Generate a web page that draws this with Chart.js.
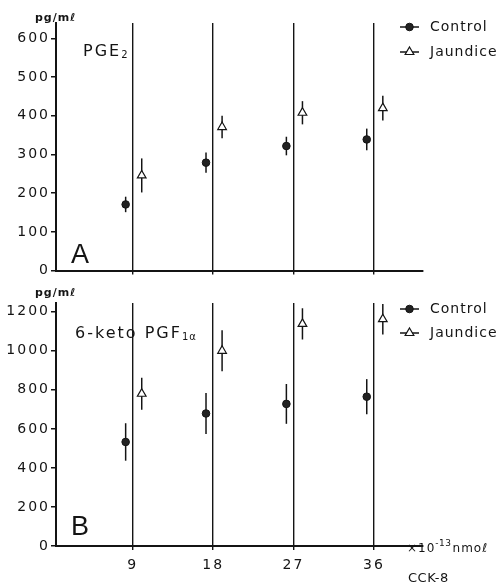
<!DOCTYPE html>
<html>
<head>
<meta charset="utf-8">
<script src="https://cdn.jsdelivr.net/npm/chart.js@4.4.0/dist/chart.umd.min.js"></script>
<style>
  html, body { margin: 0; padding: 0; background: #fff; }
  #wrap { position: relative; width: 503px; height: 585px; }
  canvas { position: absolute; left: 0; }
  #chartA { top: 0; }
  #chartB { top: 280px; }
</style>
</head>
<body>
<div id="wrap">
  <canvas id="chartA" width="503" height="280"></canvas>
  <canvas id="chartB" width="503" height="305"></canvas>
</div>
<script>
// CCK-8 doses (x10^-13 nmol)
const doses = [9, 18, 27, 36];

// panel A : PGE2 (pg/ml), mean and SE
const pgeControl = [171, 279, 322, 339];
const pgeControlSe = [20, 26, 24, 28];
const pgeJaundice = [246, 371, 408, 420];
const pgeJaundiceSe = [44, 29, 30, 32];
const pgeTicks = [0, 100, 200, 300, 400, 500, 600];

// panel B : 6-keto PGF1a (pg/ml)
const ketoControl = [533, 679, 728, 765];
const ketoControlSe = [96, 105, 102, 90];
const ketoJaundice = [780, 1000, 1138, 1162];
const ketoJaundiceSe = [82, 105, 80, 78];
const ketoTicks = [0, 200, 400, 600, 800, 1000, 1200];

const seriesNames = ['Control', 'Jaundice'];

// markers sit a little left / right of each dose line
const ctrlShift = -0.8;
const jaunShift = 1.0;
const ink = '#141414';
const fam = "'DejaVu Sans', sans-serif";

function pts(vals, shift) {
  return vals.map((v, i) => ({ x: doses[i] + shift, y: v }));
}

function drawText(ctx, txt, x, y, size, opts) {
  opts = opts || {};
  ctx.save();
  ctx.font = (opts.weight || 'normal') + ' ' + size + 'px ' + (opts.family || fam);
  ctx.letterSpacing = (opts.spacing || 0) + 'px';
  ctx.fillStyle = ink;
  ctx.textAlign = 'left';
  ctx.textBaseline = opts.baseline || 'alphabetic';
  ctx.fillText(txt, x, y);
  const w = ctx.measureText(txt).width;
  ctx.restore();
  return x + w;
}

function marker(ctx, ds, x, y) {
  ctx.save();
  ctx.fillStyle = ds.backgroundColor;
  ctx.strokeStyle = ds.borderColor;
  ctx.lineWidth = ds.borderWidth;
  ctx.beginPath();
  const r = ds.pointRadius;
  if (ds.pointStyle === 'circle') {
    ctx.arc(x, y, r, 0, Math.PI * 2);
  } else {
    ctx.moveTo(x, y - r);
    ctx.lineTo(x + r * 0.87, y + r * 0.5);
    ctx.lineTo(x - r * 0.87, y + r * 0.5);
    ctx.closePath();
  }
  ctx.fill();
  ctx.stroke();
  ctx.restore();
}

function makePanel(id, cfg) {
  const decor = {
    id: 'decor',
    beforeDraw(chart) {
      chart.ctx.letterSpacing = '2px';
    },
    beforeDatasetsDraw(chart) {
      const ctx = chart.ctx, ys = chart.scales.y;
      ctx.save();
      ctx.strokeStyle = ink;
      ctx.lineWidth = 1.5;
      chart.data.datasets.forEach((ds, i) => {
        chart.getDatasetMeta(i).data.forEach((p, j) => {
          const v = ds.data[j].y, e = ds.se[j];
          ctx.beginPath();
          ctx.moveTo(p.x, ys.getPixelForValue(v + e));
          ctx.lineTo(p.x, ys.getPixelForValue(v - e));
          ctx.stroke();
        });
      });
      ctx.restore();
    },
    afterDraw(chart) {
      const ctx = chart.ctx;
      // legend
      chart.data.datasets.forEach((ds, i) => {
        const y = cfg.legendY[i];
        ctx.save();
        ctx.strokeStyle = ink;
        ctx.lineWidth = 1.5;
        ctx.beginPath();
        ctx.moveTo(400, y);
        ctx.lineTo(419, y);
        ctx.stroke();
        ctx.restore();
        marker(ctx, ds, 409.5, y);
        drawText(ctx, ds.label, 430, y, 14, { spacing: 1, baseline: 'middle' });
      });
      // unit, title, panel letter
      drawText(ctx, 'pg/m\u2113', 35, cfg.unitY, 11, { weight: 'bold', spacing: 1 });
      const tx = drawText(ctx, cfg.title, cfg.titleX, cfg.titleY, 16, { spacing: 2 });
      drawText(ctx, cfg.titleSub, tx, cfg.titleY + 2, 10, { spacing: 1 });
      drawText(ctx, cfg.letter, 71, cfg.letterY, 27, { family: "'Liberation Sans', sans-serif" });
      if (cfg.showX) {
        let x = drawText(ctx, '\u00d710', 407, 272, 12, { spacing: 1 });
        x = drawText(ctx, '-13', x, 266, 9, { spacing: 0.5 });
        drawText(ctx, 'nmo\u2113', x + 1, 272, 12, { spacing: 1 });
        drawText(ctx, 'CCK-8', 408, 302, 13, { spacing: 0.5 });
      }
    }
  };

  return new Chart(document.getElementById(id), {
    type: 'scatter',
    data: {
      datasets: [
        {
          label: seriesNames[0],
          data: pts(cfg.control, ctrlShift),
          se: cfg.controlSe,
          pointStyle: 'circle',
          pointRadius: 3.8,
          backgroundColor: '#222',
          borderColor: ink,
          borderWidth: 1,
          showLine: false
        },
        {
          label: seriesNames[1],
          data: pts(cfg.jaundice, jaunShift),
          se: cfg.jaundiceSe,
          pointStyle: 'triangle',
          pointRadius: 5,
          backgroundColor: '#fff',
          borderColor: ink,
          borderWidth: 1.2,
          showLine: false
        }
      ]
    },
    options: {
      responsive: false,
      animation: false,
      layout: { padding: { top: 23, right: 80, left: 0, bottom: 0 } },
      plugins: { legend: { display: false }, tooltip: { enabled: false } },
      scales: {
        x: {
          type: 'linear',
          min: 0.4,
          max: 41.5,
          afterBuildTicks: (ax) => { ax.ticks = doses.map(v => ({ value: v })); },
          afterFit: (ax) => { ax.height = cfg.xHeight; },
          grid: { color: ink, lineWidth: 1.4, drawTicks: true, tickLength: 4, tickColor: ink },
          border: { color: ink, width: 2 },
          ticks: {
            display: cfg.showX,
            color: ink,
            font: { family: fam, size: 14 },
            padding: 7,
            maxRotation: 0,
            autoSkip: false,
            callback: v => String(v)
          }
        },
        y: {
          min: 0,
          max: cfg.yMax,
          afterBuildTicks: (ax) => { ax.ticks = cfg.yTicks.map(v => ({ value: v })); },
          afterFit: (ax) => { ax.width = 56; },
          grid: { drawOnChartArea: false, drawTicks: true, tickLength: 5, tickColor: ink, lineWidth: 1.5 },
          border: { color: ink, width: 2 },
          ticks: { color: ink, font: { family: fam, size: 14 }, padding: 1, callback: v => String(v) }
        }
      }
    },
    plugins: [decor]
  });
}

makePanel('chartA', {
  control: pgeControl, controlSe: pgeControlSe,
  jaundice: pgeJaundice, jaundiceSe: pgeJaundiceSe,
  yTicks: pgeTicks, yMax: 640, xHeight: 9, showX: false,
  legendY: [27, 52], unitY: 21,
  title: 'PGE', titleSub: '2', titleX: 83, titleY: 56,
  letter: 'A', letterY: 263
});

makePanel('chartB', {
  control: ketoControl, controlSe: ketoControlSe,
  jaundice: ketoJaundice, jaundiceSe: ketoJaundiceSe,
  yTicks: ketoTicks, yMax: 1245, xHeight: 39, showX: true,
  legendY: [29, 53], unitY: 16,
  title: '6-keto PGF', titleSub: '1\u03b1', titleX: 75, titleY: 58,
  letter: 'B', letterY: 255
});
</script>
</body>
</html>
